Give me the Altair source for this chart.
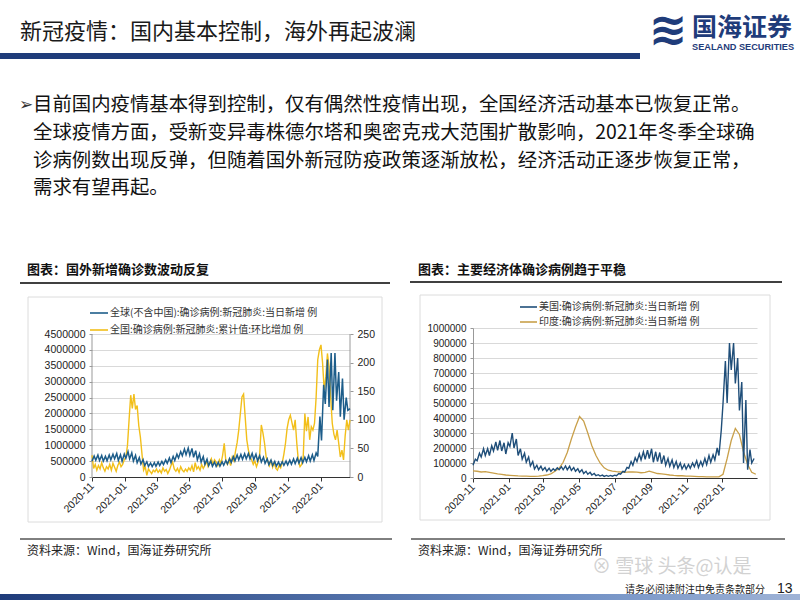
import altair as alt
import pandas as pd

CJK = "Noto Sans CJK SC"
LAT = "Liberation Sans"

# ---------------- data ----------------
START = "2020-11-01"

# Global (ex China) daily new cases, thousands: weekly low (Sun) and high (Thu)
global_lo_k = [500, 530, 520, 500, 510,
               540, 570, 520, 500,
               590, 570, 500, 450, 410,
               360, 330, 330, 340,
               360, 390, 430, 450,
               520, 600, 670, 700,
               680, 620, 540, 470, 400,
               360, 340, 330, 340,
               370, 410, 460, 510,
               540, 560, 570, 570, 550,
               510, 470, 430, 390,
               360, 340, 350, 370,
               380, 400, 420, 440, 450,
               480, 500, 520, 650,
               1150, 2300, 2200, 2100,
               2400, 1900, 1800, 2100]
global_hi_k = [660, 690, 680, 650, 690,
               720, 740, 700, 720,
               800, 760, 680, 610, 550,
               480, 440, 450, 470,
               490, 540, 600, 650,
               720, 800, 880, 910,
               900, 830, 730, 640, 560,
               500, 470, 460, 480,
               520, 580, 640, 690,
               710, 730, 740, 740, 720,
               670, 620, 570, 530,
               490, 470, 480, 500,
               530, 570, 590, 610, 620,
               670, 700, 760, 1900,
               2900, 3700, 3900, 3900,
               3300, 3100, 2500, 2150]

# China daily new confirmed cases, every 3 days from 2020-11-01
china_new = [38, 15, 22, 12, 20, 14, 25, 16, 10, 18,
             14, 22, 12, 24, 17, 10, 20, 26, 18, 22,
             30, 35, 55, 100, 143, 120, 145, 118, 125, 90,
             70, 40, 12, 18, 3, 14, 10, 6, 12, 9,
             14, 8, 12, 7, 16, 10, 13, 6, 12, 20,
             26, 14, 10, 15, 8, 18, 12, 9, 14, 10,
             16, 12, 20, 9, 25, 14, 18, 12, 22, 15,
             20, 28, 18, 25, 32, 22, 30, 26, 20, 30,
             24, 38, 59, 28, 22, 30, 20, 35, 28, 45,
             60, 82, 111, 140, 145, 105, 65, 47, 35, 30,
             22, 28, 18, 26, 40, 91, 77, 59, 35, 28,
             20, 30, 17, 25, 15, 12, 20, 16, 25, 40,
             59, 85, 100, 108, 95, 82, 100, 59, 28, 18,
             22, 35, 111, 80, 105, 65, 88, 82, 94, 140,
             205, 222, 231, 199, 152, 175, 216, 193, 140, 94,
             75, 65, 82, 59, 35, 47, 30, 72, 100, 82, 100]

# US daily new cases, thousands: weekly low and high
us_lo_k = [85, 115, 140, 150, 150,
           180, 185, 180, 160,
           210, 200, 150, 125, 105,
           80, 60, 55, 52,
           45, 45, 50, 55,
           55, 55, 50, 45,
           38, 30, 25, 20, 15,
           13, 11, 11, 12,
           15, 25, 40, 65,
           85, 110, 120, 125, 130,
           105, 110, 95, 85,
           78, 70, 65, 60,
           60, 65, 75, 70, 80,
           90, 105, 120, 150,
           500, 500, 720, 630,
           450, 100, 55, 100]
us_hi_k = [125, 165, 195, 195, 215,
           240, 250, 235, 235,
           300, 260, 195, 165, 140,
           110, 85, 78, 70,
           65, 62, 68, 75,
           80, 78, 70, 62,
           55, 45, 38, 30, 22,
           19, 17, 17, 19,
           30, 45, 70, 110,
           135, 160, 175, 185, 195,
           175, 170, 150, 130,
           120, 110, 100, 90,
           90, 100, 115, 110, 130,
           150, 155, 200, 320,
           780, 900, 900, 800,
           640, 520, 190, 130]

# India daily new cases, thousands, weekly from 2020-11-01
india_k = [48, 45, 40, 42, 38,
           33, 27, 24, 20,
           18, 16, 14, 13, 12,
           11, 11, 13, 16,
           20, 28, 45, 65,
           105, 170, 260, 340,
           410, 380, 300, 215, 150,
           100, 68, 52, 46,
           42, 40, 38, 41,
           40, 39, 35, 37, 46,
           38, 30, 28, 24,
           20, 17, 15, 15,
           12, 12, 11, 9, 9,
           8, 7, 7, 8,
           25, 130, 250, 330,
           290, 175, 90, 38, 25]

tick_months = ["2020-11", "2021-01", "2021-03", "2021-05", "2021-07",
               "2021-09", "2021-11", "2022-01"]
left_ticks = [0, 500000, 1000000, 1500000, 2000000, 2500000, 3000000,
              3500000, 4000000, 4500000]
right_ticks = [0, 50, 100, 150, 200, 250]
us_ticks = [0, 100000, 200000, 300000, 400000, 500000, 600000, 700000,
            800000, 900000, 1000000]

legend_left = ["全球(不含中国):确诊病例:新冠肺炎:当日新增 例",
               "全国:确诊病例:新冠肺炎:累计值:环比增加 例"]
legend_right = ["美国:确诊病例:新冠肺炎:当日新增 例",
                "印度:确诊病例:新冠肺炎:当日新增 例"]

# ---------------- tables ----------------
FMT = "%Y-%m-%dT00:00:00"


def zigzag(lo, hi):
    weeks = pd.date_range(START, periods=len(lo), freq="7D")
    rows = []
    for d, a, b in zip(weeks, lo, hi):
        rows.append({"date": d, "value": a * 1000})
        rows.append({"date": d + pd.Timedelta(days=4), "value": b * 1000})
    df = pd.DataFrame(rows)
    df["date"] = df["date"].dt.strftime(FMT)
    return df


glob_df = zigzag(global_lo_k, global_hi_k)
us_df = zigzag(us_lo_k, us_hi_k)
china_df = pd.DataFrame({
    "date": pd.date_range(START, periods=len(china_new), freq="3D").strftime(FMT),
    "value": china_new})
india_df = pd.DataFrame({
    "date": pd.date_range(START, periods=len(india_k), freq="7D").strftime(FMT),
    "value": [v * 1000 for v in india_k]})

tick_dt = [alt.DateTime(year=int(m[:4]), month=int(m[5:]), date=1) for m in tick_months]

# ---------------- layout constants ----------------
OX, OY = 92, 328          # page position of the left plot's origin
LW, LH = 258, 149
RW, RH = 284, 150
GAP = 123
ONE = pd.DataFrame({"k": [0]})

BLUE_L = "#1d5d8a"
YELLOW = "#f2bf1a"
BLUE_R = "#1f4e79"
GOLD = "#c9a04a"
NAVY = "#1f3c7a"


def T(px, py, text, size=12, color="#222", weight="normal", font=CJK,
      align="left", baseline="middle"):
    return alt.Chart(ONE).mark_text(
        text=text, fontSize=size, color=color, fontWeight=weight, font=font,
        align=align, baseline=baseline).encode(
        x=alt.value(px - OX), y=alt.value(py - OY))


def R(x1, y1, x2, y2, **kw):
    return alt.Chart(ONE).mark_rect(**kw).encode(
        x=alt.value(x1 - OX), x2=alt.value(x2 - OX),
        y=alt.value(y1 - OY), y2=alt.value(y2 - OY))


def H(x1, x2, y, color="#000", w=1.0):
    return alt.Chart(ONE).mark_rule(color=color, strokeWidth=w).encode(
        x=alt.value(x1 - OX), x2=alt.value(x2 - OX), y=alt.value(y - OY))


BODY = 19.4
decor = [
    R(0, 0, 800, 600, opacity=0),   # page frame (defines 800x600 bounds)
    # header
    T(20, 32, "新冠疫情：国内基本控制，海外再起波澜", size=22, color="#1a1a1a"),
    R(0, 53, 640, 59, color=NAVY),
    T(668, 31, "≋", size=46, color=NAVY, weight="bold", font="DejaVu Sans", align="center"),
    T(692, 28, "国海证券", size=25, color=NAVY, weight="bold"),
    T(692, 47, "SEALAND SECURITIES", size=9.2, color=NAVY, weight="bold", font=LAT),
    # body text
    T(19, 105, "➢", size=17, color="#333", font="DejaVu Sans"),
    T(33, 105, "目前国内疫情基本得到控制，仅有偶然性疫情出现，全国经济活动基本已恢复正常。", size=BODY, color="#111"),
    T(33, 133, "全球疫情方面，受新变异毒株德尔塔和奥密克戎大范围扩散影响，2021年冬季全球确", size=BODY, color="#111"),
    T(33, 161, "诊病例数出现反弹，但随着国外新冠防疫政策逐渐放松，经济活动正逐步恢复正常，", size=BODY, color="#111"),
    T(33, 188, "需求有望再起。", size=BODY, color="#111"),
    # section titles
    T(27, 270, "图表：国外新增确诊数波动反复", size=13, weight="bold", color="#111"),
    H(20, 390, 283, w=1.3),
    T(418, 270, "图表：主要经济体确诊病例趋于平稳", size=13, weight="bold", color="#111"),
    H(410, 782, 282, w=1.3),
    # chart boxes
    R(28, 297, 382, 522, filled=False, stroke="#dcdcdc", strokeWidth=1),
    R(420, 295, 770, 520, filled=False, stroke="#dcdcdc", strokeWidth=1),
    # legends
    H(90, 108, 313, color=BLUE_L, w=1.6),
    T(110, 313, legend_left[0], size=10, color="#333"),
    H(90, 108, 330, color=YELLOW, w=1.6),
    T(110, 330, legend_left[1], size=10, color="#333"),
    H(520, 537, 307, color=BLUE_R, w=1.6),
    T(539, 307, legend_right[0], size=10, color="#333"),
    H(520, 537, 322, color=GOLD, w=1.6),
    T(539, 322, legend_right[1], size=10, color="#333"),
    # sources
    H(20, 392, 539, w=1),
    T(27, 551, "资料来源：Wind，国海证券研究所", size=12, color="#222"),
    H(411, 785, 539, w=1),
    T(418, 551, "资料来源：Wind，国海证券研究所", size=12, color="#222"),
    # footer
    T(592, 567, "⊗ 雪球  头条@认是", size=19, color="#d2d2d2"),
    R(0, 594, 800, 600, color=alt.Gradient(
        gradient="linear", x1=0, x2=1, y1=0, y2=0,
        stops=[alt.GradientStop(color="#1f3c7a", offset=0),
               alt.GradientStop(color="#6f8fc4", offset=0.7),
               alt.GradientStop(color="#9fb3d6", offset=1)])),
    T(625, 590, "请务必阅读附注中免责条款部分", size=10, color="#222"),
    T(777, 589, "13", size=14, color="#222", font=LAT),
]

# ---------------- left chart ----------------
x_common = dict(values=tick_dt, format="%Y-%m", labelAngle=-45, labelAlign="right",
                labelBaseline="middle", labelOverlap=False, grid=False,
                domainColor="#333", tickColor="#333", tickSize=4, labelFont=LAT,
                labelFontSize=10.5, labelColor="#222", labelPadding=3, title=None)

x_left = alt.X("date:T", scale=alt.Scale(domain=[
    alt.DateTime(year=2020, month=11, date=1),
    alt.DateTime(year=2022, month=2, date=24)]), axis=alt.Axis(**x_common))

left_max = 4500000 * LH / 143
right_max = 250 * LH / 143

global_line = alt.Chart(glob_df).mark_line(color=BLUE_L, strokeWidth=1.5).encode(
    x=x_left,
    y=alt.Y("value:Q", scale=alt.Scale(domain=[0, left_max], nice=False),
            axis=alt.Axis(values=left_ticks, format="d", orient="left", grid=True,
                          gridColor="#d9d9d9", domain=False, tickColor="#999",
                          tickSize=3, labelFont=LAT, labelFontSize=10.5,
                          labelColor="#222", labelPadding=4, title=None)))

china_line = alt.Chart(china_df).mark_line(color=YELLOW, strokeWidth=1.4).encode(
    x=x_left,
    y=alt.Y("value:Q", scale=alt.Scale(domain=[0, right_max], nice=False),
            axis=alt.Axis(values=right_ticks, format="d", orient="right", grid=False,
                          domain=False, tickColor="#999", tickSize=3,
                          labelFont=LAT, labelFontSize=10.5, labelColor="#222",
                          labelPadding=4, title=None)))

frame = [
    alt.Chart(ONE).mark_rule(color="#999").encode(
        x=alt.value(0), y=alt.value(LH - 143), y2=alt.value(LH)),
    alt.Chart(ONE).mark_rule(color="#999").encode(
        x=alt.value(LW), y=alt.value(LH - 143), y2=alt.value(LH)),
]

left = alt.layer(*decor, *frame, china_line, global_line).resolve_scale(
    y="independent").properties(width=LW, height=LH)

# ---------------- right chart ----------------
x_right = alt.X("date:T", scale=alt.Scale(domain=[
    alt.DateTime(year=2020, month=11, date=1),
    alt.DateTime(year=2022, month=3, date=1)]), axis=alt.Axis(**x_common))

y_right = alt.Y("value:Q", scale=alt.Scale(domain=[0, 1000000], nice=False),
                axis=alt.Axis(values=us_ticks, format="d", grid=True,
                              gridColor="#d9d9d9", domainColor="#999",
                              tickColor="#999", tickSize=3, labelFont=LAT,
                              labelFontSize=10, labelColor="#222",
                              labelPadding=4, title=None))

india_line = alt.Chart(india_df).mark_line(color=GOLD, strokeWidth=1.3).encode(
    x=x_right, y=y_right)
us_line = alt.Chart(us_df).mark_line(color=BLUE_R, strokeWidth=1.4).encode(
    x=x_right, y=y_right)

right = alt.layer(india_line, us_line).properties(width=RW, height=RH)

chart = alt.hconcat(left, right, spacing=GAP, bounds="flush").properties(
    padding=0, background="white").configure_view(stroke=None)

chart.save("out.html", embed_options={"renderer": "svg", "actions": False})
